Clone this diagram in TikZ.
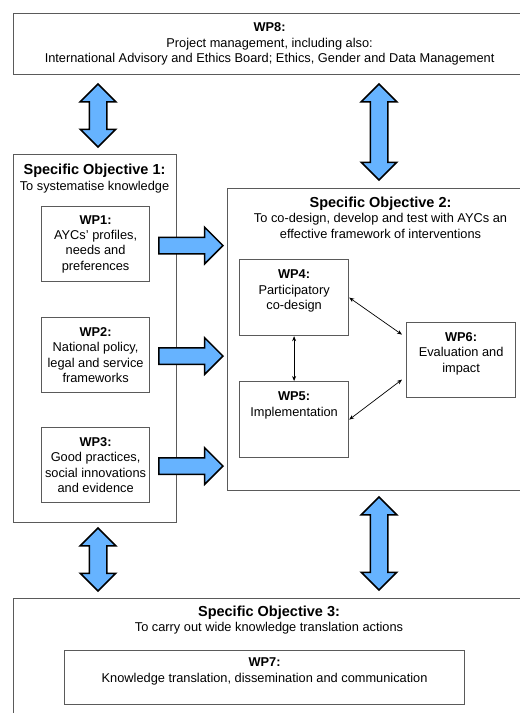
\documentclass[tikz,border=0pt]{standalone}
\usepackage{fontspec}
\setmainfont{Liberation Sans}
\usetikzlibrary{shapes.arrows,arrows.meta,positioning}

\definecolor{arrowblue}{HTML}{66B3FF}
\definecolor{boxgray}{HTML}{5A5A5A}
\newcommand{\wpfont}{\fontsize{12.8}{15.4}\selectfont}
\newcommand{\sotitle}{\fontsize{14.5}{17}\selectfont\bfseries}

\tikzset{
  box/.style={draw=boxgray, line width=1.2pt, anchor=north west, inner sep=0pt,
    align=center, font=\wpfont},
  wpbox/.style={box, minimum width=108, minimum height=75},
  sotext/.style={align=center, font=\wpfont, inner sep=0pt},
  blockarrow/.style={draw=black, fill=arrowblue, line width=1.5pt, inner xsep=0pt},
  updown/.style={blockarrow, double arrow, rotate=90, inner ysep=8pt,
    double arrow head extend=9pt, minimum height=#1},
  toright/.style={blockarrow, single arrow, inner ysep=7.5pt,
    single arrow head extend=10pt, minimum height=64, anchor=tip},
  thinarrow/.style={{Stealth[length=5pt,width=4pt]}-{Stealth[length=5pt,width=4pt]},
    line width=0.7pt}
}

\begin{document}
\begin{tikzpicture}[x=1pt,y=-1pt]
  \clip (0,0) rectangle (520,713);

  % top: project management
  \node[box, minimum width=512, minimum height=61] (wp8) at (13,13)
    {\textbf{WP8:}\\Project management, including also:\\
     International Advisory and Ethics Board; Ethics, Gender and Data Management};

  % objective 1
  \node[box, minimum width=163, minimum height=368] (so1) at (13,154) {};
  \node[sotext] (so1title) at (94.5,178.5)
    {{\sotitle Specific Objective 1:}\\To systematise knowledge};
  \node[wpbox] (wp1) at (41,206) {\textbf{WP1:}\\AYCs' profiles,\\needs and\\preferences};
  \node[wpbox] (wp2) at (41,317) {\textbf{WP2:}\\National policy,\\legal and service\\frameworks};
  \node[wpbox] (wp3) at (41,427) {\textbf{WP3:}\\Good practices,\\social innovations\\and evidence};

  % objective 2
  \node[box, minimum width=307, minimum height=302] (so2) at (227,188) {};
  \node[sotext] (so2title) at (380.5,217.5)
    {{\sotitle Specific Objective 2:}\\To co-design, develop and test with AYCs an\\
     effective framework of interventions};
  \node[wpbox, minimum width=109, minimum height=76] (wp4) at (239,259)
    {\textbf{WP4:}\\Participatory\\co-design\\~};
  \node[wpbox, minimum width=109, minimum height=76] (wp5) at (239,381)
    {\textbf{WP5:}\\Implementation\\~\\~};
  \node[wpbox, minimum width=109] (wp6) at (406,322)
    {\textbf{WP6:}\\Evaluation and\\impact\\~};

  \draw[thinarrow] (wp4.south) -- (wp5.north);
  \draw[thinarrow] (wp4.east) -- ([xshift=-4pt,yshift=25.5pt]wp6.west);
  \draw[thinarrow] (wp5.east) -- ([xshift=-4pt,yshift=-19.5pt]wp6.west);

  % objective 3
  \node[box, minimum width=512, minimum height=130] (so3) at (13,598) {};
  \node[sotext] (so3title) at (269,620)
    {{\sotitle Specific Objective 3:}\\To carry out wide knowledge translation actions};
  \node[box, minimum width=400, minimum height=54] (wp7) at (64,650)
    {\textbf{WP7:}\\Knowledge translation, dissemination and communication\\~};

  % block arrows
  \node[updown=63] (a81) at (98,115.5) {};
  \node[updown=96] (a82) at (379,132) {};
  \node[updown=63] (a13) at (98,559.5) {};
  \node[updown=93] (a23) at (379,543.5) {};
  \node[toright] (a1) at (224,245.5) {};
  \node[toright] (a2) at (224,356) {};
  \node[toright] (a3) at (224,466) {};
\end{tikzpicture}
\end{document}
